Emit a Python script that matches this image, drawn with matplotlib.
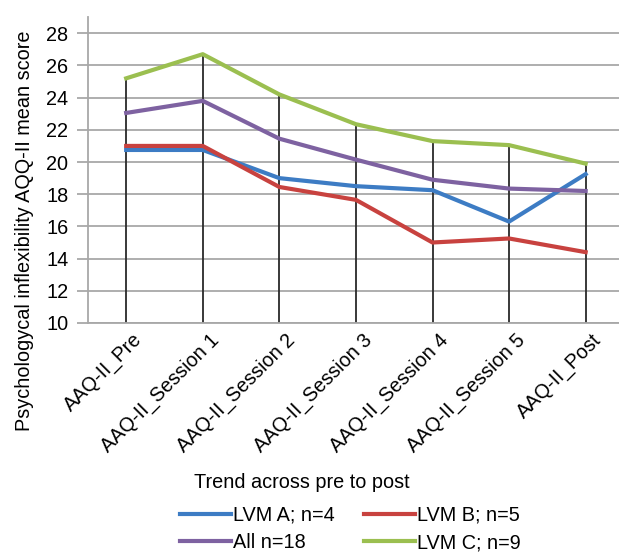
import matplotlib.pyplot as plt
import matplotlib.transforms as mtransforms
import numpy as np

# Category labels and series values
sessions = ['AAQ-II_Pre', 'AAQ-II_Session 1', 'AAQ-II_Session 2', 'AAQ-II_Session 3',
            'AAQ-II_Session 4', 'AAQ-II_Session 5', 'AAQ-II_Post']
lvm_a = [20.75, 20.75, 19.0, 18.5, 18.25, 16.3, 19.25]
lvm_b = [21.0, 21.0, 18.45, 17.65, 15.0, 15.25, 14.4]
all_n = [23.05, 23.8, 21.45, 20.15, 18.9, 18.35, 18.2]
lvm_c = [25.2, 26.7, 24.2, 22.35, 21.3, 21.05, 19.9]

plt.rcParams['font.family'] = ['Liberation Sans', 'DejaVu Sans']
fs = 14.3

fig = plt.figure(figsize=(6.19, 5.54), dpi=100)
ax = fig.add_axes([0.142, 0.417, 0.866, 0.552])

x = np.arange(len(sessions))

# Excel-style drop lines from the highest series down to the axis
tops = np.max([lvm_a, lvm_b, all_n, lvm_c], axis=0)
ax.vlines(x, 10, tops, color='#2a2a2a', lw=1.3, zorder=2)

ax.plot(x, lvm_a, color='#3d7cc4', lw=3.0, label='LVM A; n=4', zorder=3)
ax.plot(x, all_n, color='#7e62a1', lw=3.0, label='All n=18', zorder=3)
ax.plot(x, lvm_b, color='#c8423f', lw=3.0, label='LVM B; n=5', zorder=3)
ax.plot(x, lvm_c, color='#9bbf50', lw=3.0, label='LVM C; n=9', zorder=3)

ax.set_xlim(-0.5, len(sessions) - 0.5)
ax.set_ylim(10, 29)
ax.set_yticks(np.arange(10, 29, 2))
ax.yaxis.grid(True, color='#a8a8a8', lw=1.3)
ax.set_axisbelow(True)

for side in ['top', 'right']:
    ax.spines[side].set_visible(False)
ax.spines['left'].set_color('#a8a8a8')
ax.spines['left'].set_linewidth(1.3)
ax.spines['bottom'].set_color('#a8a8a8')
ax.spines['bottom'].set_linewidth(1.3)

ax.tick_params(axis='y', length=8, color='#a8a8a8', width=1.3, labelsize=fs, pad=6)
ax.tick_params(axis='x', length=0, labelsize=fs, pad=10)
ax.set_xticks(x)
ax.set_xticklabels(sessions, rotation=45, ha='right', va='center', rotation_mode='anchor')
shift = mtransforms.ScaledTranslation(0.13, 0, fig.dpi_scale_trans)
for lab in ax.get_xticklabels():
    lab.set_transform(lab.get_transform() + shift)

ax.set_ylabel('Psychologycal inflexibility AQQ-II mean score', fontsize=fs)
ax.yaxis.set_label_coords(-0.10, 0.30)
fig.text(0.487, 1 - 483 / 554, 'Trend across pre to post', fontsize=fs, ha='center', va='center')

fig.legend(loc='center left', bbox_to_anchor=(180 / 619, 1 - 529 / 554), ncol=2, frameon=False,
           fontsize=fs, handlelength=2.55, handletextpad=0.1, columnspacing=1.5,
           labelspacing=0.42, borderpad=0, borderaxespad=0)

fig.savefig('out.png', dpi=100)
